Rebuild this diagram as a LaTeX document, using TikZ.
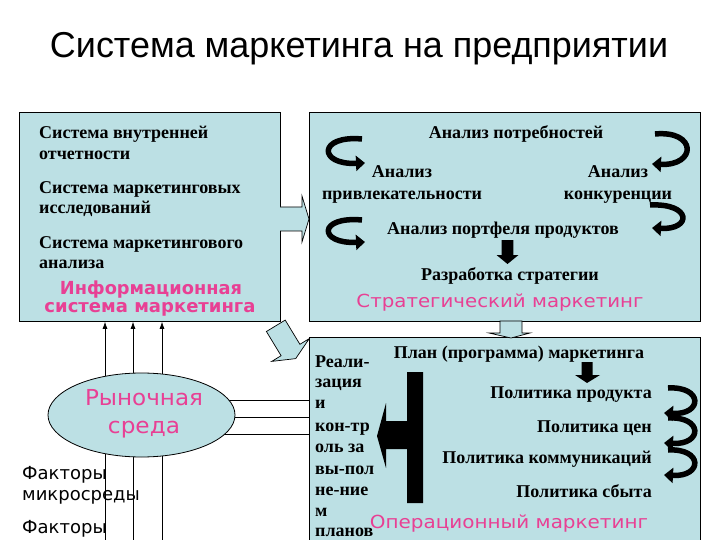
\documentclass[tikz,border=0pt]{standalone}
\usepackage{graphicx}
\usepackage{fontspec}
\setmainfont{Liberation Serif}
\newfontfamily\dvsans{DejaVu Sans}
\newfontfamily\lsans{Liberation Sans}
\usetikzlibrary{arrows.meta,shapes.geometric}
\definecolor{boxblue}{RGB}{188,224,228}
\definecolor{pinkc}{RGB}{232,64,148}
\begin{document}
\begin{tikzpicture}[x=1pt,y=-1pt,
  box/.style={draw=black, line width=0.8pt, fill=boxblue, inner sep=0, anchor=north west},
  st/.style={inner sep=0, font=\bfseries\fontsize{18}{20}\selectfont},
  pk/.style={inner sep=0, text=pinkc, anchor=base, font=\dvsans\fontsize{18}{20}\selectfont},
  pkb/.style={inner sep=0, text=pinkc, anchor=base, font=\dvsans\bfseries\fontsize{18}{20}\selectfont},
  fac/.style={inner sep=0, anchor=base west, font=\dvsans\fontsize{18}{20}\selectfont},
  curv/.style={line width=5.5pt, -{Triangle[length=9pt,width=15pt]}},
  blk/.style={draw=black, line width=0.7pt, fill=boxblue},
  thinarr/.style={line width=0.7pt, -{Latex[length=7pt,width=5pt]}},
  thin/.style={line width=0.7pt}
]
\useasboundingbox (0,0) rectangle (720,540);
\clip (0,0) rectangle (720,540);
\fill[white] (0,0) rectangle (720,540);

% title
\node[inner sep=0, anchor=base, font=\lsans\fontsize{36}{40}\selectfont] (title) at (359,58)
  {\resizebox{618pt}{\height}{Система маркетинга на предприятии}};

% boxes
\node[box, minimum width=261pt, minimum height=209pt] (info) at (19,112) {};
\node[box, minimum width=391pt, minimum height=209pt] (strat) at (309,112) {};
\node[box, minimum width=391pt, minimum height=230pt] (oper) at (309,337) {};

% block arrow info -> strat
\path[blk] (280,207) -- (302,207) -- (302,196) -- (309,219) -- (302,242) -- (302,231) -- (280,231);
% block arrow strat -> oper
\path[blk] (500,321) -- (522,321) -- (522,333) -- (530,333) -- (511,338) -- (489,333) -- (500,333) -- cycle;
% diagonal block arrow info -> oper
\path[blk] (285.2,320.1) -- (299.9,344.3) -- (309.3,338.6) -- (295.7,358.6) -- (271.7,361.4) -- (281.1,355.7) -- (266.4,331.5) -- cycle;

% info box texts
\node[st, anchor=base west] (i1) at (39,139) {Система внутренней};
\node[st, anchor=base west] (i2) at (39,160) {отчетности};
\node[st, anchor=base west] (i3) at (39,194) {Система маркетинговых};
\node[st, anchor=base west] (i4) at (39,214) {исследований};
\node[st, anchor=base west] (i5) at (39,248) {Система маркетингового};
\node[st, anchor=base west] (i6) at (39,268) {анализа};
\node[pkb] (ip1) at (151,294) {\resizebox{182pt}{\height}{Информационная}};
\node[pkb] (ip2) at (150,312) {\resizebox{211pt}{\height}{система маркетинга}};

% strategic texts
\node[st, anchor=base] (s1) at (516,139) {Анализ потребностей};
\node[st, anchor=base] (s2) at (402,178) {Анализ};
\node[st, anchor=base] (s3) at (402,200) {привлекательности};
\node[st, anchor=base] (s4) at (618,178) {Анализ};
\node[st, anchor=base] (s5) at (618,200) {конкуренции};
\node[st, anchor=base] (s6) at (503,235) {Анализ портфеля продуктов};
\node[st, anchor=base] (s7) at (510,280) {Разработка стратегии};
\node[pk] (sp) at (500,307) {\resizebox{287pt}{\height}{Стратегический маркетинг}};

% strategic arrows
\draw[curv] (362,139) .. controls (318,135) and (318,165) .. (365,163);
\draw[curv] (362,220) .. controls (318,216) and (318,244) .. (365,242);
\draw[curv] (655,134) .. controls (697,130) and (697,166) .. (652,164);
\draw[curv] (650,205) .. controls (692,203) and (692,230) .. (652,228);
\fill[black] (501.7,240) -- (513.3,240) -- (513.3,255) -- (518.5,255) -- (507.5,264) -- (496.5,255) -- (501.7,255) -- cycle;

% operational texts
\node[st, anchor=base] (o1) at (519,358) {План (программа) маркетинга};
\node[st, anchor=base east] (o2) at (652,398) {Политика продукта};
\node[st, anchor=base east] (o3) at (652,432) {Политика цен};
\node[st, anchor=base east] (o4) at (652,463) {Политика коммуникаций};
\node[st, anchor=base east] (o5) at (652,497) {Политика сбыта};
\node[pk] (op) at (509,528) {\resizebox{278pt}{\height}{Операционный маркетинг}};
\node[st, anchor=base west] (l1) at (315,367) {Реали-};
\node[st, anchor=base west] (l2) at (315,387) {зация};
\node[st, anchor=base west] (l3) at (315,408) {и};
\node[st, anchor=base west] (l4) at (315,431) {кон-тр};
\node[st, anchor=base west] (l5) at (315,452) {оль за};
\node[st, anchor=base west] (l6) at (315,474) {вы-пол};
\node[st, anchor=base west] (l7) at (315,495) {не-ние};
\node[st, anchor=base west] (l8) at (315,516) {м};
\node[st, anchor=base west] (l9) at (315,536) {планов};

% operational arrows
\fill[black] (581.7,362) -- (592.7,362) -- (592.7,375) -- (600,375) -- (587,383) -- (575,375) -- (581.7,375) -- cycle;
\fill[black] (423,372) -- (423,503) -- (407,503) -- (407,449) -- (386,449) -- (386,468) -- (377,436) -- (386,403) -- (386,421) -- (407,421) -- (407,372) -- cycle;
\draw[curv] (668,388) .. controls (703,386) and (703,415) .. (664,413);
\draw[curv] (668,418) .. controls (703,416) and (703,445) .. (664,443);
\draw[curv] (668,450) .. controls (703,448) and (703,477) .. (664,475);

% factors text
\node[fac] (f1) at (22,479) {Факторы};
\node[fac] (f2) at (22,500) {микросреды};
\node[fac] (f3) at (22,533) {Факторы};

% lines
\coordinate (v1) at (105,545);
\coordinate (v2) at (133,545);
\coordinate (v3) at (162,545);
\draw[thinarr] (v1) -- (v1 |- info.south);
\draw[thinarr] (v2) -- (v2 |- info.south);
\draw[thinarr] (v3) -- (v3 |- info.south);
\coordinate (h1) at (141,400);
\coordinate (h2) at (141,417);
\coordinate (h3) at (141,434);
\draw[thin] (h1) -- (h1 -| oper.west);
\draw[thin] (h2) -- (h2 -| oper.west);
\draw[thin] (h3) -- (h3 -| oper.west);

% ellipse
\node[ellipse, draw=black, line width=0.8pt, fill=boxblue, minimum width=187pt, minimum height=84pt, inner sep=0] (market) at (141.5,415) {};
\node[pk, font=\dvsans\fontsize{22}{24}\selectfont] (m1) at (144,405) {\resizebox{118pt}{\height}{Рыночная}};
\node[pk, font=\dvsans\fontsize{22}{24}\selectfont] (m2) at (144,433) {\resizebox{72pt}{\height}{среда}};
\end{tikzpicture}
\end{document}
